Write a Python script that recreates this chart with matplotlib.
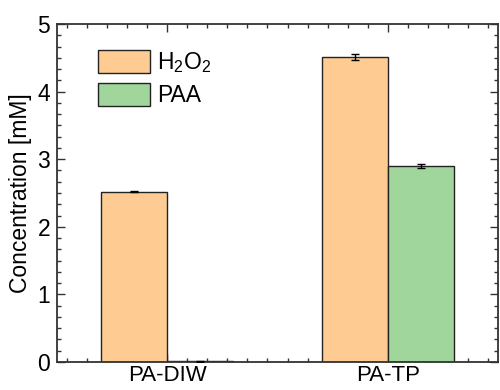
import matplotlib
matplotlib.use("Agg")
import matplotlib.pyplot as plt
from matplotlib.ticker import MultipleLocator, FixedLocator
import numpy as np

categories = ["PA-DIW", "PA-TP"]
h2o2 = [2.52, 4.51]
h2o2_err = [0.012, 0.04]
paa = [0.01, 2.90]
paa_err = [0.005, 0.025]
series_labels = ["H$_2$O$_2$", "PAA"]

plt.rcParams['font.family'] = ['Liberation Sans', 'DejaVu Sans']
plt.rcParams['mathtext.fontset'] = 'custom'
plt.rcParams['mathtext.rm'] = 'Liberation Sans'
plt.rcParams['mathtext.it'] = 'Liberation Sans:italic'
plt.rcParams['mathtext.bf'] = 'Liberation Sans:bold'
plt.rcParams['mathtext.default'] = 'regular'
FS = 16.5
plt.rcParams['font.size'] = FS

fig = plt.figure(figsize=(5, 3.9), dpi=100)
ax = fig.add_axes([57/500, 1 - 362/390, (498-57)/500, (362-24)/390])

x = np.arange(1, len(categories) + 1)
w = 0.3
c_or = "#FECC92"
c_gr = "#A0D69C"
ax.bar(x - w/2, h2o2, w, color=c_or, edgecolor="#222222", linewidth=1.0,
       label=series_labels[0], zorder=2)
ax.bar(x + w/2, paa, w, color=c_gr, edgecolor="#222222", linewidth=1.0,
       label=series_labels[1], zorder=2)
ax.errorbar(x - w/2, h2o2, yerr=h2o2_err, fmt='none', ecolor='black',
            elinewidth=1.0, capsize=3, capthick=1.0, zorder=3)
ax.errorbar(x + w/2, paa, yerr=paa_err, fmt='none', ecolor='black',
            elinewidth=1.0, capsize=3, capthick=1.0, zorder=3)

ax.set_xlim(0.5, 2.5)
ax.set_ylim(0, 5)
ax.set_xticks(x)
ax.set_xticklabels(categories)
ax.xaxis.set_minor_locator(FixedLocator([1 + k/11 for k in range(-6, 18) if k % 11 != 0]))
ax.yaxis.set_major_locator(MultipleLocator(1))
ax.yaxis.set_minor_locator(MultipleLocator(1/6))
ax.tick_params(which='both', direction='in', top=True, right=True, width=1.0,
               color='#333333')
ax.tick_params(which='major', length=6, labelsize=FS)
ax.tick_params(axis='x', which='major', pad=2, labelsize=16)
ax.tick_params(axis='y', which='major', pad=5)
ax.tick_params(which='minor', length=3)
for s in ax.spines.values():
    s.set_linewidth(1.3)
    s.set_color('#333333')

ax.set_ylabel("Concentration [mM]", fontsize=FS, labelpad=4)

leg = ax.legend(loc='upper left', bbox_to_anchor=(0.092, 0.923), frameon=False,
                handlelength=2.3, handleheight=1.15, handletextpad=0.3,
                labelspacing=0.35, fontsize=FS, borderaxespad=0, borderpad=0)

fig.savefig("out.png", dpi=100)
